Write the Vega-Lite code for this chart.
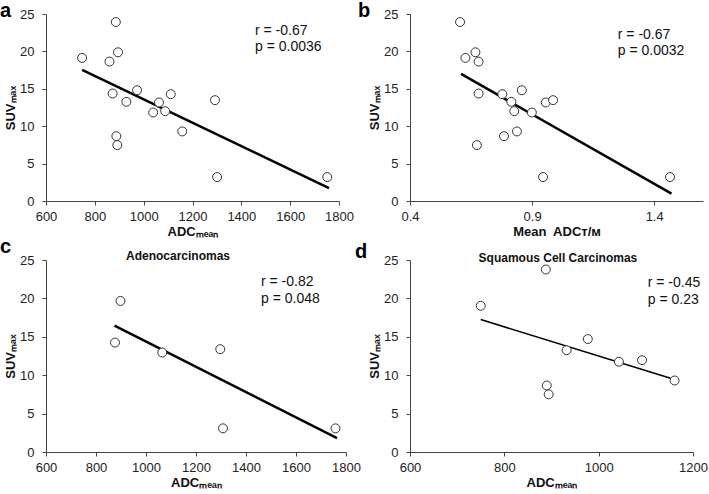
{
  "$schema": "https://vega.github.io/schema/vega-lite/v6.json",
  "padding": {"left": 0, "top": 0, "right": 2, "bottom": 2},
  "background": "white",
  "config": {
    "view": {"stroke": null},
    "font": "Liberation Sans",
    "axis": {
      "grid": false,
      "domainColor": "#444",
      "tickColor": "#444",
      "tickSize": 4,
      "labelFont": "Liberation Sans",
      "labelFontSize": 13,
      "labelColor": "#222",
      "titleFont": "Liberation Sans",
      "titleFontSize": 13,
      "titleFontWeight": "bold",
      "titleColor": "#111",
      "labelFlush": false,
      "labelOverlap": false
    },
    "axisX": {"labelPadding": 5, "titlePadding": 2},
    "axisY": {"labelPadding": 8, "titlePadding": 2}
  },
  "datasets": {
    "pts": [
      {"panel": "a", "x": 748, "y": 19.13}, {"panel": "a", "x": 886, "y": 23.93}, {"panel": "a", "x": 860, "y": 18.64},
      {"panel": "a", "x": 895, "y": 19.88}, {"panel": "a", "x": 873, "y": 14.37}, {"panel": "a", "x": 973, "y": 14.81},
      {"panel": "a", "x": 929, "y": 13.26}, {"panel": "a", "x": 1063, "y": 13.17}, {"panel": "a", "x": 1111, "y": 14.28},
      {"panel": "a", "x": 1039, "y": 11.83}, {"panel": "a", "x": 1088, "y": 12.01}, {"panel": "a", "x": 888, "y": 8.67},
      {"panel": "a", "x": 892, "y": 7.47}, {"panel": "a", "x": 1158, "y": 9.30}, {"panel": "a", "x": 1292, "y": 13.48},
      {"panel": "a", "x": 1301, "y": 3.20}, {"panel": "a", "x": 1752, "y": 3.20},
      {"panel": "b", "x": 0.605, "y": 23.93}, {"panel": "b", "x": 0.627, "y": 19.13}, {"panel": "b", "x": 0.668, "y": 19.88},
      {"panel": "b", "x": 0.681, "y": 18.64}, {"panel": "b", "x": 0.681, "y": 14.37}, {"panel": "b", "x": 0.674, "y": 7.47},
      {"panel": "b", "x": 0.778, "y": 14.28}, {"panel": "b", "x": 0.815, "y": 13.26}, {"panel": "b", "x": 0.858, "y": 14.81},
      {"panel": "b", "x": 0.827, "y": 12.01}, {"panel": "b", "x": 0.899, "y": 11.83}, {"panel": "b", "x": 0.785, "y": 8.67},
      {"panel": "b", "x": 0.838, "y": 9.30}, {"panel": "b", "x": 0.956, "y": 13.17}, {"panel": "b", "x": 0.986, "y": 13.48},
      {"panel": "b", "x": 0.945, "y": 3.20}, {"panel": "b", "x": 1.465, "y": 3.20},
      {"panel": "c", "x": 898, "y": 19.67}, {"panel": "c", "x": 876, "y": 14.25}, {"panel": "c", "x": 1065, "y": 12.95},
      {"panel": "c", "x": 1297, "y": 13.39}, {"panel": "c", "x": 1308, "y": 3.08}, {"panel": "c", "x": 1758, "y": 3.08},
      {"panel": "d", "x": 750, "y": 19.04}, {"panel": "d", "x": 888, "y": 23.76}, {"panel": "d", "x": 932, "y": 13.25},
      {"panel": "d", "x": 977, "y": 14.71}, {"panel": "d", "x": 1043, "y": 11.75}, {"panel": "d", "x": 1092, "y": 11.96},
      {"panel": "d", "x": 1161, "y": 9.31}, {"panel": "d", "x": 890, "y": 8.66}, {"panel": "d", "x": 894, "y": 7.50}
    ],
    "fit": [
      {"panel": "a", "x": 748, "y": 17.53}, {"panel": "a", "x": 1759, "y": 1.73},
      {"panel": "b", "x": 0.609, "y": 16.99}, {"panel": "b", "x": 1.471, "y": 0.98},
      {"panel": "c", "x": 874, "y": 16.46}, {"panel": "c", "x": 1764, "y": 1.82},
      {"panel": "d", "x": 750, "y": 17.24}, {"panel": "d", "x": 1161, "y": 9.43}
    ],
    "notes": [
      {"panel": "a", "x": 1456, "y": 22.2, "label": "r = -0.67"}, {"panel": "a", "x": 1456, "y": 20.05, "label": "p = 0.0036"},
      {"panel": "b", "x": 1.251, "y": 21.66, "label": "r = -0.67"}, {"panel": "b", "x": 1.251, "y": 19.52, "label": "p = 0.0032"},
      {"panel": "c", "x": 1460, "y": 21.6, "label": "r = -0.82"}, {"panel": "c", "x": 1460, "y": 19.4, "label": "p = 0.048"},
      {"panel": "d", "x": 1104, "y": 21.5, "label": "r = -0.45"}, {"panel": "d", "x": 1104, "y": 19.27, "label": "p = 0.23"}
    ],
    "heads": [
      {"panel": "c", "x": 1128, "y": 24.95, "label": "Adenocarcinomas"},
      {"panel": "d", "x": 913.6, "y": 24.7, "label": "Squamous Cell Carcinomas"}
    ]
  },
  "columns": 2,
  "bounds": "flush",
  "spacing": {"row": 59, "column": 64},
  "concat": [
    {
      "width": 293, "height": 187,
      "title": {"text": "a", "anchor": "start", "frame": "group", "dx": -46, "offset": -28.5, "baseline": "alphabetic", "fontSize": 20, "fontWeight": "bold", "font": "Liberation Sans", "color": "#000"},
      "encoding": {
        "x": {"field": "x", "type": "quantitative", "scale": {"domain": [600, 1800], "nice": false, "zero": false}, "axis": {"values": [600, 800, 1000, 1200, 1400, 1600, 1800], "format": "d", "title": "ADCₘₑₐₙ"}},
        "y": {"field": "y", "type": "quantitative", "scale": {"domain": [0, 25], "nice": false}, "axis": {"values": [0, 5, 10, 15, 20, 25], "title": "SUVₘₐₓ"}}
      },
      "layer": [
        {"data": {"name": "fit"}, "transform": [{"filter": "datum.panel === 'a'"}], "mark": {"type": "line", "color": "#000", "strokeWidth": 2.5}},
        {"data": {"name": "pts"}, "transform": [{"filter": "datum.panel === 'a'"}], "mark": {"type": "point", "shape": "circle", "fill": "white", "stroke": "#333", "strokeWidth": 1, "size": 80, "opacity": 1}},
        {"data": {"name": "notes"}, "transform": [{"filter": "datum.panel === 'a'"}], "mark": {"type": "text", "align": "left", "baseline": "alphabetic", "fontSize": 14, "color": "#111"}, "encoding": {"text": {"field": "label"}}}
      ]
    },
    {
      "width": 293, "height": 187,
      "title": {"text": "b", "anchor": "start", "frame": "group", "dx": -52, "offset": -28.5, "baseline": "alphabetic", "fontSize": 20, "fontWeight": "bold", "font": "Liberation Sans", "color": "#000"},
      "encoding": {
        "x": {"field": "x", "type": "quantitative", "scale": {"domain": [0.4, 1.6], "nice": false, "zero": false}, "axis": {"values": [0.4, 0.9, 1.4], "format": ".1f", "title": "Mean\u00a0 ADCᴛ/ᴍ"}},
        "y": {"field": "y", "type": "quantitative", "scale": {"domain": [0, 25], "nice": false}, "axis": {"values": [0, 5, 10, 15, 20, 25], "title": "SUVₘₐₓ"}}
      },
      "layer": [
        {"data": {"name": "fit"}, "transform": [{"filter": "datum.panel === 'b'"}], "mark": {"type": "line", "color": "#000", "strokeWidth": 2.5}},
        {"data": {"name": "pts"}, "transform": [{"filter": "datum.panel === 'b'"}], "mark": {"type": "point", "shape": "circle", "fill": "white", "stroke": "#333", "strokeWidth": 1, "size": 80, "opacity": 1}},
        {"data": {"name": "notes"}, "transform": [{"filter": "datum.panel === 'b'"}], "mark": {"type": "text", "align": "left", "baseline": "alphabetic", "fontSize": 14, "color": "#111"}, "encoding": {"text": {"field": "label"}}}
      ]
    },
    {
      "width": 300, "height": 192,
      "title": {"text": "c", "anchor": "start", "frame": "group", "dx": -46, "offset": -23, "baseline": "alphabetic", "fontSize": 20, "fontWeight": "bold", "font": "Liberation Sans", "color": "#000"},
      "encoding": {
        "x": {"field": "x", "type": "quantitative", "scale": {"domain": [600, 1800], "nice": false, "zero": false}, "axis": {"values": [600, 800, 1000, 1200, 1400, 1600, 1800], "format": "d", "title": "ADCₘₑₐₙ"}},
        "y": {"field": "y", "type": "quantitative", "scale": {"domain": [0, 25], "nice": false}, "axis": {"values": [0, 5, 10, 15, 20, 25], "title": "SUVₘₐₓ"}}
      },
      "layer": [
        {"data": {"name": "fit"}, "transform": [{"filter": "datum.panel === 'c'"}], "mark": {"type": "line", "color": "#000", "strokeWidth": 2.5}},
        {"data": {"name": "pts"}, "transform": [{"filter": "datum.panel === 'c'"}], "mark": {"type": "point", "shape": "circle", "fill": "white", "stroke": "#333", "strokeWidth": 1, "size": 80, "opacity": 1}},
        {"data": {"name": "notes"}, "transform": [{"filter": "datum.panel === 'c'"}], "mark": {"type": "text", "align": "left", "baseline": "alphabetic", "fontSize": 14, "color": "#111"}, "encoding": {"text": {"field": "label"}}},
        {"data": {"name": "heads"}, "transform": [{"filter": "datum.panel === 'c'"}], "mark": {"type": "text", "align": "center", "baseline": "alphabetic", "fontSize": 12, "fontWeight": "bold", "color": "#111"}, "encoding": {"text": {"field": "label"}}}
      ]
    },
    {
      "width": 283, "height": 192,
      "title": {"text": "d", "anchor": "start", "frame": "group", "dx": -55, "offset": -25.5, "baseline": "alphabetic", "fontSize": 20, "fontWeight": "bold", "font": "Liberation Sans", "color": "#000"},
      "encoding": {
        "x": {"field": "x", "type": "quantitative", "scale": {"domain": [600, 1200], "nice": false, "zero": false}, "axis": {"values": [600, 800, 1000, 1200], "format": "d", "title": "ADCₘₑₐₙ"}},
        "y": {"field": "y", "type": "quantitative", "scale": {"domain": [0, 25], "nice": false}, "axis": {"values": [0, 5, 10, 15, 20, 25], "title": "SUVₘₐₓ"}}
      },
      "layer": [
        {"data": {"name": "fit"}, "transform": [{"filter": "datum.panel === 'd'"}], "mark": {"type": "line", "color": "#000", "strokeWidth": 1.6}},
        {"data": {"name": "pts"}, "transform": [{"filter": "datum.panel === 'd'"}], "mark": {"type": "point", "shape": "circle", "fill": "white", "stroke": "#333", "strokeWidth": 1, "size": 80, "opacity": 1}},
        {"data": {"name": "notes"}, "transform": [{"filter": "datum.panel === 'd'"}], "mark": {"type": "text", "align": "left", "baseline": "alphabetic", "fontSize": 14, "color": "#111"}, "encoding": {"text": {"field": "label"}}},
        {"data": {"name": "heads"}, "transform": [{"filter": "datum.panel === 'd'"}], "mark": {"type": "text", "align": "center", "baseline": "alphabetic", "fontSize": 12, "fontWeight": "bold", "color": "#111"}, "encoding": {"text": {"field": "label"}}}
      ]
    }
  ]
}
